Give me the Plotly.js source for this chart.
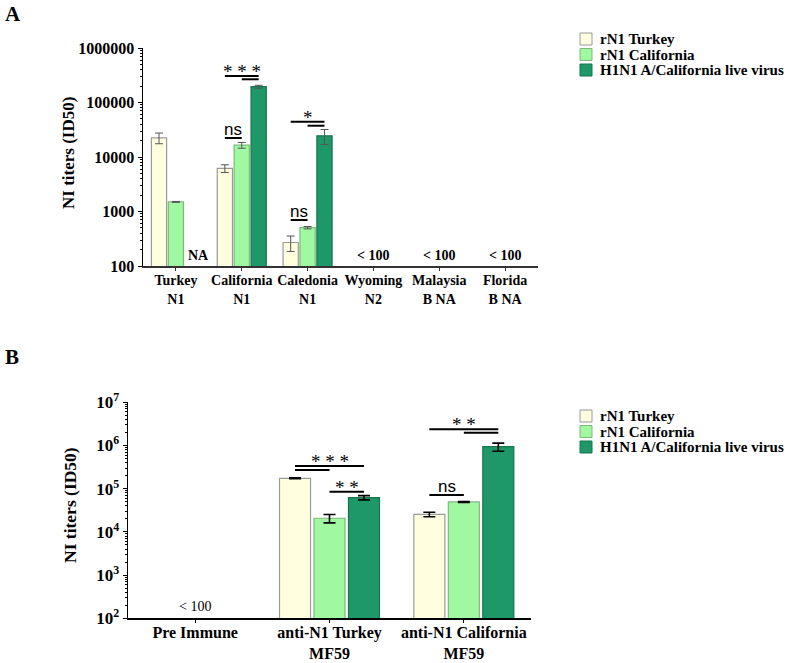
<!DOCTYPE html>
<html>
<head>
<meta charset="utf-8">
<script src="https://cdn.plot.ly/plotly-3.0.1.min.js"></script>
<style>html,body{margin:0;padding:0;background:#fff;}#chart{width:798px;height:663px;}</style>
</head>
<body>
<div id="chart"></div>
<script>
// ---------- DATA ----------
const seriesNames = ['rN1 Turkey', 'rN1 California', 'H1N1 A/California live virus'];

// Panel A
const categoriesA = ['Turkey<br>N1', 'California<br>N1', 'Caledonia<br>N1', 'Wyoming<br>N2', 'Malaysia<br>B NA', 'Florida<br>B NA'];
const turkeyA      = [22500, 6200, 270, null, null, null];
const turkeyA_err  = [5000, 1000, 85, null, null, null];
const califA       = [1500, 16500, 505, null, null, null];
const califA_err   = [30, 2000, 25, null, null, null];
const liveA        = [null, 195000, 24500, null, null, null];
const liveA_err    = [null, 12000, 7500, null, null, null];
const notesA       = ['NA', '', '', '< 100', '< 100', '< 100'];
const tickValsA    = [100, 1000, 10000, 100000, 1000000];
const tickTextA    = ['100', '1000', '10000', '100000', '1000000'];

// Panel B
const categoriesB = ['Pre Immune', 'anti-N1 Turkey<br>MF59', 'anti-N1 California<br>MF59'];
const turkeyB      = [null, 174000, 25500];
const turkeyB_err  = [null, 4000, 3000];
const califB       = [null, 20700, 49300];
const califB_err   = [null, 4500, 1000];
const liveB        = [null, 62000, 937000];
const liveB_err    = [null, 7000, 200000];
const notesB       = ['< 100', '', ''];
const tickValsB    = [1e2, 1e3, 1e4, 1e5, 1e6, 1e7];
const tickTextB    = ['10<sup>2</sup>', '10<sup>3</sup>', '10<sup>4</sup>', '10<sup>5</sup>', '10<sup>6</sup>', '10<sup>7</sup>'];

// Significance comparisons: [category index, bar from, bar to, label]
const sigA = [
  [1, 0, 2, '* * *'], [1, 1, 2, ''], [1, 0, 1, 'ns'],
  [2, 0, 2, '*'], [2, 1, 2, ''], [2, 0, 1, 'ns']
];
const sigB = [
  [1, 0, 2, '* * *'], [1, 0, 1, ''], [1, 1, 2, '* *'],
  [2, 0, 2, '* *'], [2, 1, 2, ''], [2, 0, 1, 'ns']
];

// ---------- STYLE ----------
const fills   = ['#FFFFE0', '#A0F8A0', '#1E9868'];
const borders = ['#9a9a9a', '#7cb97c', '#17744f'];
const serif = 'Liberation Serif, Times New Roman, serif';
const sans  = 'Liberation Sans, Arial, sans-serif';
const bargap = 0.23, bargroupgap = 0.1;
const slot = (1 - bargap) / 3;
// y levels (log10) for significance lines, same order as sig arrays
const sigLevelsA = [5.486, 5.426, 4.349, 4.648, 4.574, 2.844];
const sigLevelsB = [5.525, 5.433, 4.93, 6.375, 6.296, 4.854];

function barTrace(x, y, err, i, xa, ya, errColor, errThick, errW) {
  return {
    type: 'bar', x: x, y: y, name: seriesNames[i], xaxis: xa, yaxis: ya,
    marker: {color: fills[i], line: {color: borders[i], width: 1.2}},
    error_y: {type: 'data', array: err, visible: true, color: errColor, thickness: errThick, width: errW},
    showlegend: false, hoverinfo: 'x+y'
  };
}

const data = [
  barTrace(categoriesA, turkeyA, turkeyA_err, 0, 'x', 'y', '#555', 1, 4),
  barTrace(categoriesA, califA, califA_err, 1, 'x', 'y', '#555', 1, 4),
  barTrace(categoriesA, liveA, liveA_err, 2, 'x', 'y', '#555', 1, 4),
  barTrace(categoriesB, turkeyB, turkeyB_err, 0, 'x2', 'y2', '#000', 1.6, 6),
  barTrace(categoriesB, califB, califB_err, 1, 'x2', 'y2', '#000', 1.6, 6),
  barTrace(categoriesB, liveB, liveB_err, 2, 'x2', 'y2', '#000', 1.6, 6)
];

function minorTicks(lo, hi) {
  const out = [];
  for (let d = lo; d < hi; d++) for (let k = 2; k <= 9; k++) out.push(k * Math.pow(10, d));
  return out;
}

const shapes = [];
const annotations = [];

function addSig(list, levels, xref, yref, fontSize) {
  list.forEach((s, idx) => {
    const [cat, a, b, label] = s;
    const x0 = cat + (a - 1) * slot, x1 = cat + (b - 1) * slot;
    const yv = levels[idx];
    const yData = Math.pow(10, yv);
    shapes.push({type: 'line', xref: xref, yref: yref, x0: x0, x1: x1, y0: yData, y1: yData,
      line: {color: '#000', width: 2}, layer: 'above'});
    if (label) {
      const isNs = label === 'ns';
      annotations.push({xref: xref, yref: yref, x: (x0 + x1) / 2, y: yv, text: label,
        showarrow: false, xanchor: 'center', yanchor: 'bottom', yshift: isNs ? -3 : -8,
        font: {family: isNs ? sans : serif, size: isNs ? 17 : fontSize, color: '#000'}});
    }
  });
}
addSig(sigA, sigLevelsA, 'x', 'y', 19);
addSig(sigB, sigLevelsB, 'x2', 'y2', 19);

// Notes (NA / < 100)
notesA.forEach((t, i) => {
  if (!t) return;
  annotations.push({xref: 'x', yref: 'y', x: t === 'NA' ? i + 1.35 * slot : i, y: 2, text: t,
    showarrow: false, xanchor: 'center', yanchor: 'bottom', yshift: 1,
    font: {family: serif, size: 14, color: '#000', weight: 'bold'}});
});
notesB.forEach((t, i) => {
  if (!t) return;
  annotations.push({xref: 'x2', yref: 'y2', x: i, y: 2, text: t,
    showarrow: false, xanchor: 'center', yanchor: 'bottom', yshift: 2,
    font: {family: serif, size: 14, color: '#000'}});
});

// Panel letters and y titles
const H = 663, W = 798;
function paperText(px, py, text, size, angle) {
  annotations.push({xref: 'paper', yref: 'paper', x: px / W, y: 1 - py / H, text: text,
    xanchor: 'center', yanchor: 'middle', textangle: angle || 0, showarrow: false,
    font: {family: serif, size: size, color: '#000', weight: 'bold'}});
}
paperText(13, 14, 'A', 21);
paperText(12, 357, 'B', 21);
paperText(68, 153, 'NI titers (ID50)', 17, -90);
paperText(70, 505, 'NI titers (ID50)', 17.5, -90);

// Manual legends
function addLegend(rowsPx) {
  rowsPx.forEach((py, i) => {
    shapes.push({type: 'rect', xref: 'paper', yref: 'paper',
      x0: 580 / W, x1: 592 / W, y0: 1 - (py + 6) / H, y1: 1 - (py - 6) / H,
      fillcolor: fills[i], line: {color: borders[i], width: 1}});
    annotations.push({xref: 'paper', yref: 'paper', x: 598 / W, y: 1 - py / H,
      xanchor: 'left', yanchor: 'middle',
      text: seriesNames[i], showarrow: false,
      font: {family: serif, size: 15, color: '#000', weight: 'bold'}});
  });
}
addLegend([39, 54.5, 70]);
addLegend([416, 431.5, 447]);

const tickFontY = {family: serif, size: 16, color: '#000', weight: 'bold'};
const layout = {
  width: W, height: H,
  margin: {l: 0, r: 0, t: 0, b: 0},
  paper_bgcolor: '#fff', plot_bgcolor: '#fff',
  barmode: 'group', bargap: bargap, bargroupgap: bargroupgap,
  showlegend: false,
  xaxis: {domain: [143 / W, 538 / W], anchor: 'y', type: 'category', range: [-0.5, 5.5],
    showline: true, linecolor: '#333', linewidth: 1.5, ticks: 'outside', ticklen: 3, tickcolor: '#333',
    ticklabelstandoff: -2,
    showgrid: false, zeroline: false, tickfont: {family: serif, size: 14, color: '#000', weight: 'bold'}, fixedrange: true},
  yaxis: {domain: [1 - 266 / H, 1 - 48 / H], anchor: 'x', type: 'log', range: [2, 6],
    tickmode: 'array', tickvals: tickValsA, ticktext: tickTextA,
    showline: true, linecolor: '#000', linewidth: 1.5, ticks: 'outside', ticklen: 4, tickcolor: '#000',
    minor: {tickmode: 'array', tickvals: minorTicks(2, 6), ticks: 'outside', ticklen: 2, tickcolor: '#000', showgrid: false},
    showgrid: false, zeroline: false, tickfont: tickFontY, fixedrange: true},
  xaxis2: {domain: [128 / W, 531 / W], anchor: 'y2', type: 'category', range: [-0.5, 2.5],
    showline: true, linecolor: '#000', linewidth: 1.5, ticks: 'outside', ticklen: 3, tickcolor: '#000',
    ticklabelstandoff: -4,
    showgrid: false, zeroline: false, tickfont: {family: serif, size: 16, color: '#000', weight: 'bold'}, fixedrange: true},
  yaxis2: {domain: [1 - 618.3 / H, 1 - 402.3 / H], anchor: 'x2', type: 'log', range: [2, 7],
    tickmode: 'array', tickvals: tickValsB, ticktext: tickTextB,
    showline: true, linecolor: '#000', linewidth: 1.5, ticks: 'outside', ticklen: 4, tickcolor: '#000',
    minor: {tickmode: 'array', tickvals: minorTicks(2, 7), ticks: 'outside', ticklen: 2, tickcolor: '#000', showgrid: false},
    showgrid: false, zeroline: false, tickfont: {family: serif, size: 17, color: '#000', weight: 'bold'}, fixedrange: true},
  shapes: shapes,
  annotations: annotations
};

Plotly.newPlot('chart', data, layout, {displayModeBar: false, staticPlot: true});
</script>
</body>
</html>
